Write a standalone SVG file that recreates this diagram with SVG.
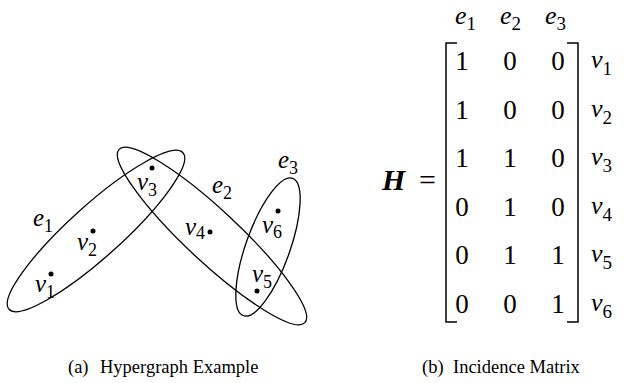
<svg xmlns="http://www.w3.org/2000/svg" width="625" height="383" viewBox="0 0 625 383" font-family="'Liberation Serif', 'Times New Roman', Tinos, 'DejaVu Serif', 'Noto Serif', FreeSerif, serif">
<style>
text{font-family:'Liberation Serif','Times New Roman',Tinos,'DejaVu Serif','Noto Serif',FreeSerif,serif;fill:#000}
.var{font-style:italic;font-size:25px}
.sub{font-style:normal;font-size:18px}
.edge{fill:none;stroke:#000;stroke-width:1.3}
.dot{fill:#000}
.mx{font-size:27px;text-anchor:middle}
.mv{font-style:italic;font-size:26px}
.ms{font-style:normal;font-size:19px}
.br{fill:none;stroke:#000;stroke-width:1.5}
.cap{font-size:18.5px}
</style>
<rect width="625" height="383" fill="#fff"/>
<g id="hyperedges">
<g id="e1"><ellipse class="edge" cx="96" cy="231" rx="117" ry="26" transform="rotate(-42 96 231)"/><text class="var" x="33" y="226">e<tspan class="sub" dy="6">1</tspan></text></g>
<g id="e2"><ellipse class="edge" cx="212" cy="236" rx="127" ry="26" transform="rotate(43 212 236)"/><text class="var" x="212" y="193">e<tspan class="sub" dy="6">2</tspan></text></g>
<g id="e3"><ellipse class="edge" cx="268" cy="247" rx="73" ry="22" transform="rotate(-70.3 268 247)"/><text class="var" x="278" y="168">e<tspan class="sub" dy="6">3</tspan></text></g>
</g>
<g id="v1"><circle class="dot" cx="51" cy="274" r="2.5"/><text class="var" x="35" y="292">v<tspan class="sub" dy="6">1</tspan></text></g>
<g id="v2"><circle class="dot" cx="93" cy="231" r="2.5"/><text class="var" x="77" y="250">v<tspan class="sub" dy="6">2</tspan></text></g>
<g id="v3"><circle class="dot" cx="152" cy="168" r="2.5"/><text class="var" x="137" y="190">v<tspan class="sub" dy="6">3</tspan></text></g>
<g id="v4"><circle class="dot" cx="210" cy="232" r="2.5"/><text class="var" x="185" y="235">v<tspan class="sub" dy="4">4</tspan></text></g>
<g id="v5"><circle class="dot" cx="257" cy="291" r="2.5"/><text class="var" x="252" y="282">v<tspan class="sub" dy="6">5</tspan></text></g>
<g id="v6"><circle class="dot" cx="278" cy="211" r="2.5"/><text class="var" x="262" y="233">v<tspan class="sub" dy="5">6</tspan></text></g>
<g id="connectors"></g>
<g id="matrix">
<text x="382" y="190" style="font-weight:bold;font-style:italic;font-size:30px">H</text>
<text x="419" y="190" style="font-size:30px">=</text>
<path class="br" d="M457,43 H446 V322 H457"/>
<path class="br" d="M567,43 H578 V322 H567"/>
<text class="mv" x="455" y="24">e<tspan class="ms" dy="6">1</tspan></text>
<text class="mv" x="500" y="24">e<tspan class="ms" dy="6">2</tspan></text>
<text class="mv" x="545" y="24">e<tspan class="ms" dy="6">3</tspan></text>
<g class="mx">
<text class="mx" x="462" y="70">1</text><text class="mx" x="510" y="70">0</text><text class="mx" x="558" y="70">0</text>
<text class="mx" x="462" y="118.6">1</text><text class="mx" x="510" y="118.6">0</text><text class="mx" x="558" y="118.6">0</text>
<text class="mx" x="462" y="167.2">1</text><text class="mx" x="510" y="167.2">1</text><text class="mx" x="558" y="167.2">0</text>
<text class="mx" x="462" y="215.8">0</text><text class="mx" x="510" y="215.8">1</text><text class="mx" x="558" y="215.8">0</text>
<text class="mx" x="462" y="264.4">0</text><text class="mx" x="510" y="264.4">1</text><text class="mx" x="558" y="264.4">1</text>
<text class="mx" x="462" y="313">0</text><text class="mx" x="510" y="313">0</text><text class="mx" x="558" y="313">1</text>
</g>
<text class="mv" x="591" y="68">v<tspan class="ms" dy="7">1</tspan></text>
<text class="mv" x="591" y="116.6">v<tspan class="ms" dy="7">2</tspan></text>
<text class="mv" x="591" y="165.2">v<tspan class="ms" dy="7">3</tspan></text>
<text class="mv" x="591" y="213.8">v<tspan class="ms" dy="7">4</tspan></text>
<text class="mv" x="591" y="262.4">v<tspan class="ms" dy="7">5</tspan></text>
<text class="mv" x="591" y="311">v<tspan class="ms" dy="7">6</tspan></text>
</g>
<text class="cap" x="68" y="373">(a)<tspan x="100">Hypergraph Example</tspan></text>
<text class="cap" x="422" y="373">(b)<tspan x="453">Incidence Matrix</tspan></text>
</svg>
